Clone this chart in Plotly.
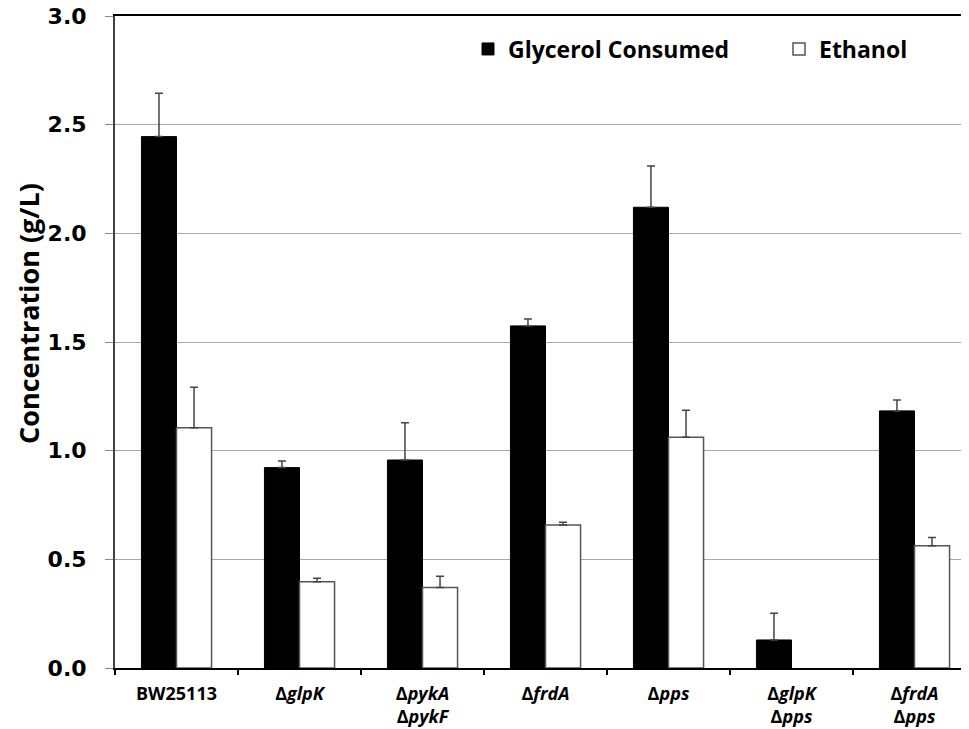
import plotly.graph_objects as go

categories = ["BW25113", "ΔglpK", "ΔpykA ΔpykF", "ΔfrdA", "Δpps", "ΔglpK Δpps", "ΔfrdA Δpps"]
tick_labels = ["BW25113", "Δ<i>glpK</i>", "Δ<i>pykA</i><br>Δ<i>pykF</i>", "Δ<i>frdA</i>",
               "Δ<i>pps</i>", "Δ<i>glpK</i><br>Δ<i>pps</i>", "Δ<i>frdA</i><br>Δ<i>pps</i>"]
glycerol = [2.445, 0.922, 0.957, 1.574, 2.12, 0.129, 1.183]
glycerol_err = [0.20, 0.031, 0.172, 0.032, 0.19, 0.123, 0.05]
ethanol = [1.106, 0.397, 0.370, 0.658, 1.062, None, 0.563]
ethanol_err = [0.186, 0.016, 0.052, 0.013, 0.124, None, 0.037]
y_ticks = [0.0, 0.5, 1.0, 1.5, 2.0, 2.5, 3.0]

# page body has an 8px margin; compensate so the plot area lands where the reference has it
W, H = 961, 721
ML, MT, MB, MR = 107, 8, 61, 0
PW = W - ML - MR
PH = H - MT - MB
OX, OY = 8 + ML, 8 + MT  # screen position of plot area top-left

def px_x(sx):
    return (sx - OX) / PW

def px_y(sy):
    return (OY + PH - sy) / PH

fig = go.Figure()
fig.add_trace(go.Bar(
    name="Glycerol Consumed", x=categories, y=glycerol, legend="legend",
    marker=dict(color="black", line=dict(color="black", width=1)),
    error_y=dict(type="data", symmetric=False, array=glycerol_err,
                 arrayminus=[0] * len(glycerol_err), color="#444444", thickness=1.5, width=4),
))
fig.add_trace(go.Bar(
    name="Ethanol", x=categories, y=ethanol, legend="legend2",
    marker=dict(color="white", line=dict(color="#555555", width=1.5)),
    error_y=dict(type="data", symmetric=False, array=ethanol_err,
                 arrayminus=[0] * len(ethanol_err), color="#444444", thickness=1.5, width=4),
))

legend_font = dict(family="Open Sans", size=23, color="black", weight="bold")
fig.update_layout(
    width=W, height=H,
    margin=dict(l=ML, r=MR, t=MT, b=MB, autoexpand=False),
    paper_bgcolor="white", plot_bgcolor="white",
    barmode="group", bargap=0.43, bargroupgap=0,
    showlegend=True,
    legend=dict(x=px_x(468), y=px_y(49), xanchor="left", yanchor="middle",
                font=legend_font, bgcolor="rgba(0,0,0,0)"),
    legend2=dict(x=px_x(779), y=px_y(49), xanchor="left", yanchor="middle",
                 font=legend_font, bgcolor="rgba(0,0,0,0)"),
    font=dict(family="Open Sans", color="black"),
)
fig.update_xaxes(
    type="category", tickmode="array", tickvals=categories, ticktext=tick_labels,
    tickson="boundaries", ticks="outside", ticklen=5, tickcolor="black", tickwidth=2,
    ticklabelstandoff=8, automargin=False,
    range=[-0.5, -0.5 + PW / 123.0],
    showline=True, linecolor="black", linewidth=2, mirror=True,
    showgrid=False,
    tickfont=dict(family="Open Sans", size=18, color="black", weight="bold"),
)
fig.update_yaxes(
    range=[0, 3.0], tickmode="array", tickvals=y_ticks,
    ticktext=[f"{v:.1f}" for v in y_ticks],
    ticks="outside", ticklen=8, tickcolor="#888888", tickwidth=1,
    ticklabelstandoff=14, ticklabeloverflow="allow", automargin=False,
    showline=True, linecolor="#404040", linewidth=2,
    showgrid=True, gridcolor="#a8a8a8", gridwidth=1, zeroline=False,
    tickfont=dict(family="DejaVu Sans", size=22, color="black", weight="bold"),
)
fig.add_annotation(
    text="Concentration (g/L)", textangle=-90, xref="paper", yref="paper",
    x=px_x(28), y=px_y(314), xanchor="center", yanchor="middle", showarrow=False,
    font=dict(family="Open Sans", size=27, color="black", weight="bold"),
)

fig.write_html("out.html")
